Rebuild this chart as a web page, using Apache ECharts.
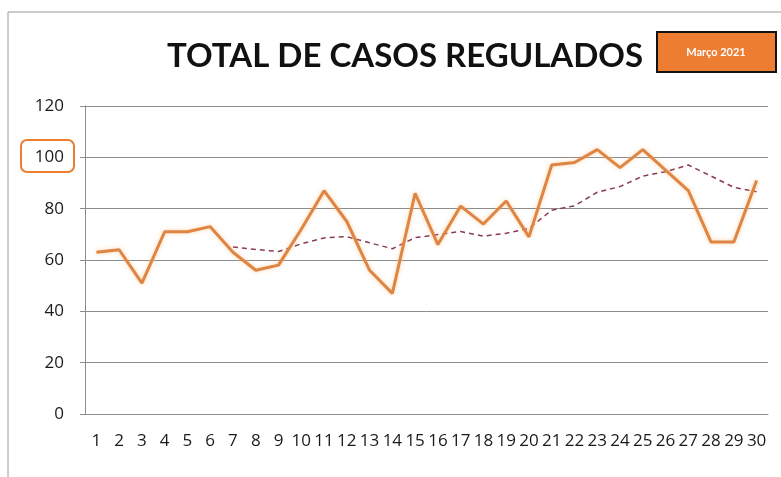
<!DOCTYPE html>
<html>
<head>
<meta charset="utf-8">
<script src="https://cdn.jsdelivr.net/npm/echarts@6/dist/echarts.min.js"></script>
<style>
  html, body { margin: 0; padding: 0; background: #fff; }
  #chart { width: 781px; height: 477px; }
</style>
</head>
<body>
<div id="chart"></div>
<script>
// dias de março
var dias = [];
for (var d = 1; d <= 30; d++) dias.push(String(d));

// casos regulados por dia
var casos = [63, 64, 51, 71, 71, 73, 63, 56, 58, 72, 87, 75, 56, 47, 86,
             66, 81, 74, 83, 69, 97, 98, 103, 96, 103, 95, 87, 67, 67, 91];

// linha de tendência tracejada (média móvel), começa no dia 7
var tendencia = ['-', '-', '-', '-', '-', '-', 65.1, 64.1, 63.3, 66.3, 68.6, 69.1, 66.7, 64.4, 68.7,
                 69.9, 71.1, 69.3, 70.4, 72.3, 79.4, 81.1, 86.4, 88.6, 92.7, 94.4, 97, 92.7, 88.3, 86.6];

var yTicks = [0, 20, 40, 60, 80, 100, 120];

var myChart = echarts.init(document.getElementById('chart'));

var option = {
    backgroundColor: '#ffffff',
    animation: false,
    title: {
        text: 'TOTAL DE CASOS REGULADOS',
        left: 400,
        top: 35,
        textAlign: 'center',
        textStyle: {
            fontFamily: 'Lato',
            fontWeight: 'bold',
            fontSize: 33,
            color: '#111'
        }
    },
    grid: { left: 85, right: 13, top: 106, bottom: 63 },
    xAxis: {
        type: 'category',
        data: dias,
        boundaryGap: true,
        axisLine: { lineStyle: { color: '#8c8c8c', width: 1 } },
        axisTick: { length: 6, lineStyle: { color: '#8c8c8c' } },
        axisLabel: {
            interval: 0,
            margin: 19,
            fontFamily: 'Open Sans',
            fontSize: 17,
            color: '#1a1a1a'
        }
    },
    yAxis: {
        type: 'value',
        min: yTicks[0],
        max: yTicks[yTicks.length - 1],
        interval: 20,
        axisLine: { show: true, lineStyle: { color: '#8c8c8c', width: 1 } },
        axisTick: { show: true, length: 5, lineStyle: { color: '#8c8c8c' } },
        axisLabel: {
            margin: 21,
            fontFamily: 'Open Sans',
            fontSize: 17,
            color: '#1a1a1a'
        },
        splitLine: { lineStyle: { color: '#8c8c8c', width: 1 } }
    },
    series: [{
        name: 'casos',
        type: 'line',
        data: casos,
        symbol: 'none',
        lineStyle: {
            color: '#DE8544',
            width: 3,
            shadowColor: 'rgba(247,180,110,0.6)',
            shadowBlur: 4
        },
        z: 3
    }, {
        name: 'tendencia',
        type: 'line',
        data: tendencia,
        symbol: 'none',
        lineStyle: {
            color: '#8a3b52',
            width: 1.5,
            type: [5, 4]
        },
        z: 2
    }],
    graphic: [{
        // moldura cinza
        type: 'polyline',
        shape: { points: [[8, 477], [8, 12], [781, 12]] },
        style: { stroke: '#9a9a9a', lineWidth: 1, fill: null }
    }, {
        // caixa "Março 2021"
        type: 'rect',
        shape: { x: 657, y: 32, width: 119, height: 40 },
        style: { fill: '#ED7D31', stroke: '#111', lineWidth: 2 }
    }, {
        type: 'text',
        x: 716,
        y: 52,
        style: {
            text: 'Março 2021',
            fill: '#fff',
            fontFamily: 'Lato',
            fontWeight: 'bold',
            fontSize: 11,
            align: 'center',
            verticalAlign: 'middle'
        }
    }, {
        // destaque do 100
        type: 'rect',
        shape: { x: 21, y: 140, width: 53, height: 32, r: 6 },
        style: { fill: null, stroke: '#ED7D31', lineWidth: 2 }
    }]
};

myChart.setOption(option);
</script>
</body>
</html>
